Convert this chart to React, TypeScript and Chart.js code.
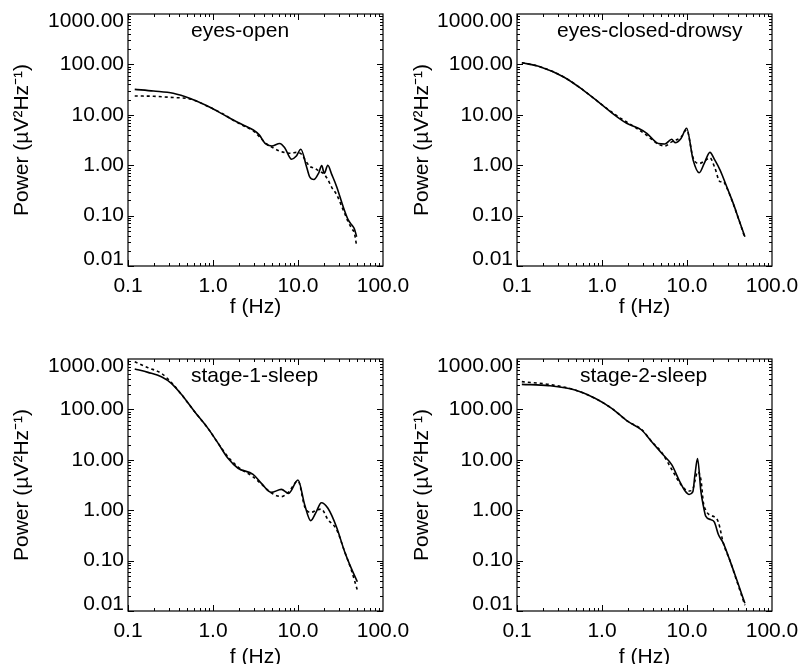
import React, { useEffect, useRef } from 'react';
import { Chart, registerables } from 'chart.js';

Chart.register(...registerables);

// ---------- tick values & labels ----------
const xTickValues = [0.1, 1, 10, 100];
const xTickLabels = ['0.1', '1.0', '10.0', '100.0'];
const yTickValues = [0.01, 0.1, 1, 10, 100, 1000];
const yTickLabels = ['0.01', '0.10', '1.00', '10.00', '100.00', '1000.00'];

const panelNames = ['eyes-open', 'eyes-closed-drowsy', 'stage-1-sleep', 'stage-2-sleep'];
const xTitle = 'f (Hz)';
const yTitle = 'Power (µV²Hz⁻¹)';

// ---------- data (f in Hz, power in µV²/Hz) ----------
const eyesOpenFreq = [0.12, 0.2, 0.34, 0.54, 0.92, 1.3, 1.73, 2.4, 2.98, 3.5, 4.1, 4.9, 6.1, 7.0, 8.4, 9.5, 10.8, 12.6, 13.7, 15.4, 17.5, 19.0, 20.4, 22.4, 25, 28.5, 34, 39, 43, 46, 49];
const eyesOpenSolid = [32, 29.6, 26.7, 21, 14.1, 10.3, 7.9, 6.0, 5.0, 4.0, 2.7, 2.4, 2.7, 2.2, 1.31, 1.5, 2.07, 0.93, 0.59, 0.52, 0.7, 0.98, 0.69, 1.0, 0.65, 0.375, 0.15, 0.082, 0.065, 0.055, 0.038];
const eyesOpenDotted = [23.6, 23.3, 22, 20.6, 14, 10.5, 7.8, 5.8, 4.8, 3.7, 2.8, 2.3, 1.9, 1.78, 1.72, 1.8, 1.7, 1.15, 0.95, 0.88, 0.78, 0.72, 0.66, 0.52, 0.36, 0.26, 0.13, 0.075, 0.055, 0.045, 0.025];

const drowsyFreq = [0.114, 0.186, 0.35, 0.6, 0.95, 1.49, 1.95, 2.68, 3.37, 4.6, 5.5, 6.6, 7.25, 8.5, 9.9, 11.8, 13.9, 16, 18.6, 21.2, 24.5, 26.4, 30, 35, 41, 48];
const drowsySolid = [108, 90, 57, 31, 16.9, 9.2, 6.8, 5.4, 4.3, 2.7, 2.64, 3.27, 2.8, 3.4, 5.4, 1.27, 0.71, 1.1, 1.8, 1.27, 0.8, 0.59, 0.34, 0.175, 0.081, 0.038];
const drowsyDotted = [108, 90, 57, 31, 16.9, 9.6, 7.2, 5.1, 3.9, 2.6, 2.4, 2.9, 3.1, 3.6, 5.0, 1.4, 1.08, 1.2, 1.4, 0.9, 0.47, 0.48, 0.33, 0.17, 0.08, 0.036];

const stage1Freq = [0.12, 0.172, 0.247, 0.324, 0.424, 0.608, 0.873, 1.15, 1.5, 1.97, 2.96, 3.71, 4.86, 6.37, 7.76, 10, 12, 14.1, 16.5, 18.8, 22.5, 28.3, 35.4, 42.4, 49.9];
const stage1Solid = [634, 543, 446, 329, 199, 90, 42, 21.2, 10.7, 6.8, 5.15, 3.41, 2.26, 2.59, 2.16, 3.97, 1.27, 0.62, 0.95, 1.41, 1.09, 0.47, 0.15, 0.07, 0.038];
const stage1Dotted = [880, 673, 520, 340, 199, 90, 42, 21.2, 11.5, 7.2, 4.6, 3.3, 2.2, 1.86, 2.3, 3.8, 1.17, 0.9, 1.0, 1.05, 0.65, 0.42, 0.15, 0.065, 0.026];

const stage2Freq = [0.114, 0.234, 0.481, 0.828, 1.3, 2.04, 2.93, 3.84, 5.04, 6.6, 8.28, 9.5, 10.6, 11.7, 12.4, 13.3, 14.6, 15.6, 16.6, 19, 21, 23.4, 26.8, 32, 38.4, 48];
const stage2Solid = [314, 296, 243, 166, 105, 57, 39, 22.9, 13.5, 8.0, 3.6, 2.4, 2.05, 2.3, 5.0, 10.6, 2.3, 1.2, 0.76, 0.65, 0.58, 0.33, 0.22, 0.1, 0.042, 0.0142];
const stage2Dotted = [355, 314, 243, 166, 105, 57, 40, 23, 14, 6.5, 3.4, 2.6, 2.4, 2.6, 3.8, 5.8, 4.0, 1.4, 1.0, 0.78, 0.74, 0.58, 0.22, 0.1, 0.04, 0.013];

const panelFreqs = [eyesOpenFreq, drowsyFreq, stage1Freq, stage2Freq];
const panelSolid = [eyesOpenSolid, drowsySolid, stage1Solid, stage2Solid];
const panelDotted = [eyesOpenDotted, drowsyDotted, stage1Dotted, stage2Dotted];

// ---------- layout (positions only) ----------
const layouts = [
  { left: 0, top: 0, width: 420, height: 332, axisW: 128, padRight: 37, padTop: 14, xTitlePad: 12, labelX: 63 },
  { left: 400, top: 0, width: 401, height: 332, axisW: 117, padRight: 29, padTop: 14, xTitlePad: 12, labelX: 40 },
  { left: 0, top: 332, width: 420, height: 345, axisW: 128, padRight: 37, padTop: 27, xTitlePad: 7, labelX: 63 },
  { left: 400, top: 332, width: 401, height: 345, axisW: 117, padRight: 29, padTop: 27, xTitlePad: 7, labelX: 63 },
];

const FONT = 'Liberation Sans';

const frameTicksPlugin = {
  id: 'frameTicks',
  afterDatasetsDraw(chart: any) {
    const { ctx, chartArea: a, scales } = chart;
    const xs = scales.x;
    const ys = scales.y;
    ctx.save();
    ctx.strokeStyle = '#000';
    ctx.lineWidth = 1.2;
    ctx.strokeRect(a.left, a.top, a.right - a.left, a.bottom - a.top);
    ctx.beginPath();
    for (let d = -1; d <= 1; d++) {
      for (let m = 1; m < 10; m++) {
        const v = m * Math.pow(10, d);
        const px = Math.round(xs.getPixelForValue(v)) + 0.5;
        const len = m === 1 ? 6 : 3;
        ctx.moveTo(px, a.bottom);
        ctx.lineTo(px, a.bottom - len);
        ctx.moveTo(px, a.top);
        ctx.lineTo(px, a.top + len);
      }
    }
    for (let d = -2; d <= 2; d++) {
      for (let m = 1; m < 10; m++) {
        const v = m * Math.pow(10, d);
        const py = Math.round(ys.getPixelForValue(v)) + 0.5;
        const len = m === 1 ? 6 : 3;
        ctx.moveTo(a.left, py);
        ctx.lineTo(a.left + len, py);
        ctx.moveTo(a.right, py);
        ctx.lineTo(a.right - len, py);
      }
    }
    ctx.lineWidth = 1;
    ctx.stroke();
    ctx.restore();
  },
};

const panelLabelPlugin = {
  id: 'panelLabel',
  afterDraw(chart: any, _args: any, opts: any) {
    const { ctx, chartArea: a } = chart;
    ctx.save();
    ctx.font = `21px "${FONT}"`;
    ctx.fillStyle = '#000';
    ctx.textAlign = 'left';
    ctx.textBaseline = 'alphabetic';
    ctx.fillText(opts.text, a.left + opts.x, a.top + 22.5);
    ctx.restore();
  },
};

function makeConfig(idx: number): any {
  const L = layouts[idx];
  const freq = panelFreqs[idx];
  const solid = freq.map((f, i) => ({ x: f, y: panelSolid[idx][i] }));
  const dotted = freq.map((f, i) => ({ x: f, y: panelDotted[idx][i] }));
  return {
    type: 'line',
    data: {
      datasets: [
        {
          label: 'solid',
          data: solid,
          borderColor: '#000',
          borderWidth: 1.6,
          pointRadius: 0,
          fill: false,
          cubicInterpolationMode: 'monotone',
        },
        {
          label: 'dotted',
          data: dotted,
          borderColor: '#000',
          borderWidth: 1.6,
          borderDash: [3, 3],
          pointRadius: 0,
          fill: false,
          cubicInterpolationMode: 'monotone',
        },
      ],
    },
    plugins: [frameTicksPlugin, panelLabelPlugin],
    options: {
      responsive: false,
      animation: false,
      devicePixelRatio: 1,
      layout: { padding: { left: 0, right: L.padRight, top: L.padTop, bottom: 0 } },
      plugins: {
        legend: { display: false },
        tooltip: { enabled: false },
        panelLabel: { text: panelNames[idx], x: L.labelX },
      },
      scales: {
        x: {
          type: 'logarithmic',
          min: 0.1,
          max: 100,
          grid: { display: false, drawTicks: false },
          border: { display: false },
          afterBuildTicks: (s: any) => {
            s.ticks = xTickValues.map((v) => ({ value: v }));
          },
          afterFit: (s: any) => {
            s.height = 66;
            s.paddingLeft = 0;
            s.paddingRight = 0;
          },
          ticks: {
            autoSkip: false,
            maxRotation: 0,
            minRotation: 0,
            padding: 8,
            color: '#000',
            font: { family: FONT, size: 21 },
            callback: (_v: any, i: number) => xTickLabels[i],
          },
          title: {
            display: true,
            text: xTitle,
            color: '#000',
            font: { family: FONT, size: 21 },
            padding: { top: 0, bottom: L.xTitlePad },
          },
        },
        y: {
          type: 'logarithmic',
          min: 0.01,
          max: 1000,
          grid: { display: false, drawTicks: false },
          border: { display: false },
          afterBuildTicks: (s: any) => {
            s.ticks = yTickValues.map((v) => ({ value: v }));
          },
          afterFit: (s: any) => {
            s.width = L.axisW;
            s.paddingTop = 0;
            s.paddingBottom = 0;
          },
          ticks: {
            autoSkip: false,
            padding: 4,
            color: '#000',
            font: { family: FONT, size: 21, lineHeight: '14px' },
            callback: (_v: any, i: number) => {
              const lbl = yTickLabels[i];
              if (i === 0) return [lbl, ''];
              if (i === yTickLabels.length - 1) return ['', lbl];
              return lbl;
            },
          },
          title: {
            display: true,
            text: yTitle,
            color: '#000',
            font: { family: FONT, size: 21 },
            padding: { top: 10, bottom: 0 },
          },
        },
      },
    },
  };
}

function Panel({ idx }: { idx: number }) {
  const ref = useRef<HTMLCanvasElement>(null);
  useEffect(() => {
    if (!ref.current) return;
    const chart = new Chart(ref.current, makeConfig(idx));
    return () => chart.destroy();
  }, [idx]);
  const L = layouts[idx];
  return (
    <canvas
      ref={ref}
      width={L.width}
      height={L.height}
      style={{ position: 'absolute', left: L.left, top: L.top, width: L.width, height: L.height }}
    />
  );
}

export default function App() {
  return (
    <div
      style={{
        position: 'absolute',
        left: 0,
        top: 0,
        width: 801,
        height: 664,
        overflow: 'hidden',
        background: '#fff',
      }}
    >
      {[0, 1, 2, 3].map((i) => (
        <Panel key={i} idx={i} />
      ))}
    </div>
  );
}
